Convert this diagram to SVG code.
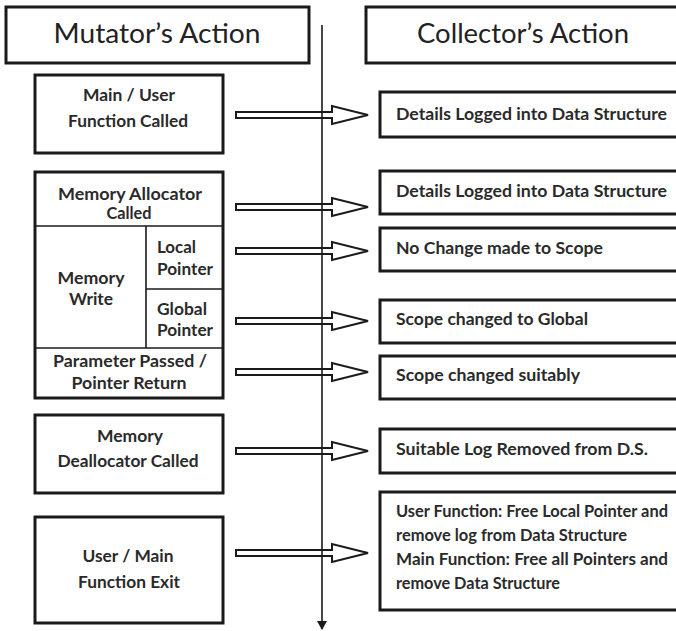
<svg xmlns="http://www.w3.org/2000/svg" xmlns:xlink="http://www.w3.org/1999/xlink" width="676" height="631" viewBox="0 0 676 631">
<style>
.box{fill:#fff;stroke:#1a1a1a;stroke-width:3}
.sep{fill:none;stroke:#1a1a1a;stroke-width:1.6}
.hd{font-family:Lato,"Liberation Sans",sans-serif;font-size:26px;fill:#222;text-anchor:middle}
.t{font-family:Lato,"Liberation Sans",sans-serif;font-size:17px;font-weight:bold;fill:#2a2a2a;text-anchor:middle}
.r{font-family:Lato,"Liberation Sans",sans-serif;font-size:17px;font-weight:bold;fill:#2a2a2a}
.ba{fill:#fff;stroke:#1a1a1a;stroke-width:2;stroke-linejoin:miter}
.vl{stroke:#1a1a1a;stroke-width:1.6;fill:none}
</style>
<defs>
<path id="blk" d="M0,-3 H96 V-9 L132,0 L96,9 V3 H0 Z"/>
<marker id="ah" markerWidth="10" markerHeight="10" refX="8" refY="5" orient="auto" markerUnits="userSpaceOnUse">
<path d="M0,0 L9,5 L0,10 Z" fill="#1a1a1a"/>
</marker>
</defs>
<rect width="676" height="631" fill="#fff"/>

<g id="mutator-header">
<rect class="box" x="6" y="7" width="303" height="56"/>
<text class="hd" x="157" y="43" textLength="207" lengthAdjust="spacingAndGlyphs">Mutator’s Action</text>
</g>
<g id="collector-header">
<rect class="box" x="366" y="7" width="316" height="56"/>
<text class="hd" x="523" y="43" textLength="212" lengthAdjust="spacingAndGlyphs">Collector’s Action</text>
</g>

<g id="main-user-called">
<rect class="box" x="35" y="75" width="188" height="78"/>
<text class="t" x="129" y="101" textLength="92" lengthAdjust="spacingAndGlyphs">Main / User</text>
<text class="t" x="128" y="127" textLength="120" lengthAdjust="spacingAndGlyphs">Function Called</text>
</g>

<g id="memory-group">
<rect class="box" x="35" y="172" width="188" height="226"/>
<line class="sep" x1="35" y1="226" x2="223" y2="226"/>
<line class="sep" x1="146" y1="226" x2="146" y2="348"/>
<line class="sep" x1="146" y1="289" x2="223" y2="289"/>
<line class="sep" x1="35" y1="348" x2="223" y2="348"/>
<g id="memory-allocator">
<text class="t" x="130" y="200" textLength="144" lengthAdjust="spacingAndGlyphs">Memory Allocator</text>
<text class="t" x="129" y="219" textLength="45" lengthAdjust="spacingAndGlyphs">Called</text>
</g>
<g id="memory-write">
<text class="t" x="91" y="284" textLength="67" lengthAdjust="spacingAndGlyphs">Memory</text>
<text class="t" x="91" y="305" textLength="44" lengthAdjust="spacingAndGlyphs">Write</text>
</g>
<g id="local-pointer">
<text class="r" x="157" y="253" textLength="39" lengthAdjust="spacingAndGlyphs">Local</text>
<text class="r" x="157" y="275" textLength="56" lengthAdjust="spacingAndGlyphs">Pointer</text>
</g>
<g id="global-pointer">
<text class="r" x="157" y="315" textLength="50" lengthAdjust="spacingAndGlyphs">Global</text>
<text class="r" x="157" y="336" textLength="56" lengthAdjust="spacingAndGlyphs">Pointer</text>
</g>
<g id="parameter-passed">
<text class="t" x="130" y="367" textLength="154" lengthAdjust="spacingAndGlyphs">Parameter Passed /</text>
<text class="t" x="129" y="389" textLength="115" lengthAdjust="spacingAndGlyphs">Pointer Return</text>
</g>
</g>

<g id="memory-deallocator">
<rect class="box" x="35" y="415" width="188" height="78"/>
<text class="t" x="130" y="442" textLength="66" lengthAdjust="spacingAndGlyphs">Memory</text>
<text class="t" x="128" y="467" textLength="141" lengthAdjust="spacingAndGlyphs">Deallocator Called</text>
</g>

<g id="function-exit">
<rect class="box" x="35" y="517" width="188" height="106"/>
<text class="t" x="128" y="562" textLength="91" lengthAdjust="spacingAndGlyphs">User / Main</text>
<text class="t" x="129" y="588" textLength="102" lengthAdjust="spacingAndGlyphs">Function Exit</text>
</g>

<g id="c-details-1">
<rect class="box" x="380" y="92" width="302" height="45"/>
<text class="r" x="396" y="120" textLength="271" lengthAdjust="spacingAndGlyphs">Details Logged into Data Structure</text>
</g>
<g id="c-details-2">
<rect class="box" x="380" y="171" width="302" height="43"/>
<text class="r" x="396" y="197" textLength="271" lengthAdjust="spacingAndGlyphs">Details Logged into Data Structure</text>
</g>
<g id="c-no-change">
<rect class="box" x="380" y="228" width="302" height="43"/>
<text class="r" x="396" y="254" textLength="207" lengthAdjust="spacingAndGlyphs">No Change made to Scope</text>
</g>
<g id="c-global">
<rect class="box" x="380" y="300" width="302" height="43"/>
<text class="r" x="396" y="325" textLength="192" lengthAdjust="spacingAndGlyphs">Scope changed to Global</text>
</g>
<g id="c-suitably">
<rect class="box" x="380" y="356" width="302" height="43"/>
<text class="r" x="396" y="381" textLength="184" lengthAdjust="spacingAndGlyphs">Scope changed suitably</text>
</g>
<g id="c-log-removed">
<rect class="box" x="380" y="429" width="302" height="44"/>
<text class="r" x="396" y="455" textLength="252" lengthAdjust="spacingAndGlyphs">Suitable Log Removed from D.S.</text>
</g>
<g id="c-free">
<rect class="box" x="380" y="492" width="302" height="118"/>
<text class="r" x="396" y="517" textLength="272" lengthAdjust="spacingAndGlyphs">User Function: Free Local Pointer and</text>
<text class="r" x="396" y="541" textLength="231" lengthAdjust="spacingAndGlyphs">remove log from Data Structure</text>
<text class="r" x="396" y="565" textLength="272" lengthAdjust="spacingAndGlyphs">Main Function: Free all Pointers and</text>
<text class="r" x="396" y="589" textLength="164" lengthAdjust="spacingAndGlyphs">remove Data Structure</text>
</g>

<g id="connectors">
<use xlink:href="#blk" href="#blk" class="ba" x="236" y="115"/>
<use xlink:href="#blk" href="#blk" class="ba" x="236" y="207"/>
<use xlink:href="#blk" href="#blk" class="ba" x="236" y="251"/>
<use xlink:href="#blk" href="#blk" class="ba" x="236" y="321"/>
<use xlink:href="#blk" href="#blk" class="ba" x="236" y="372"/>
<use xlink:href="#blk" href="#blk" class="ba" x="236" y="451"/>
<use xlink:href="#blk" href="#blk" class="ba" x="236" y="553"/>
<line class="vl" x1="322" y1="25" x2="322" y2="629" marker-end="url(#ah)"/>
</g>
</svg>
